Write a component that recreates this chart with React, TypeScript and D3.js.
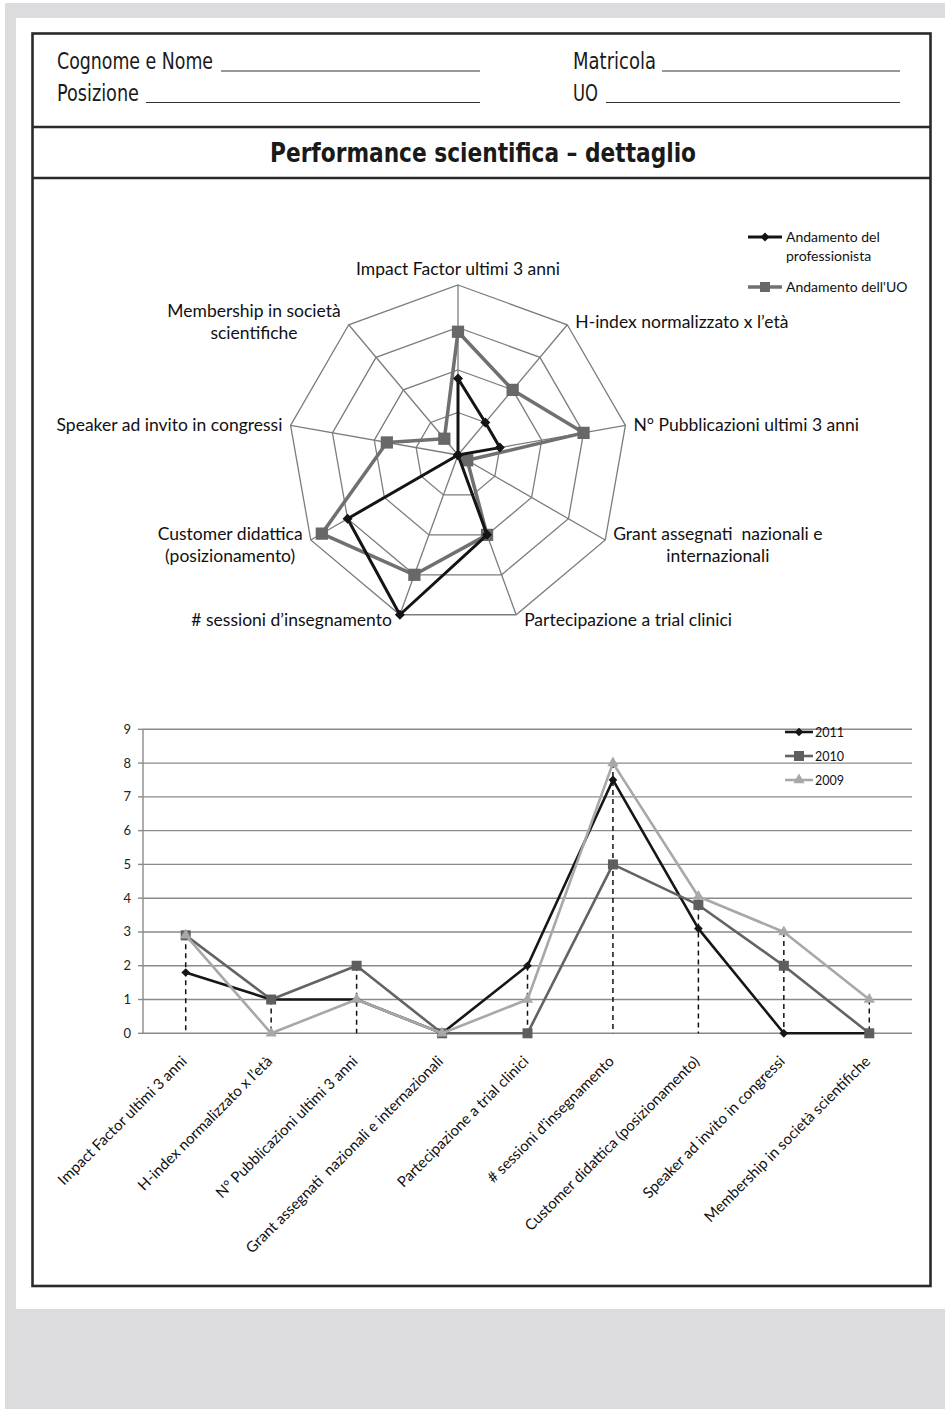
import React from "react";
import * as d3 from "d3";

// ---- Radar: axis labels (multi-line where wrapped) and values ----
const radarLabels: string[][] = [
  ["Impact Factor ultimi 3 anni"],
  ["H-index normalizzato x l’età"],
  ["N° Pubblicazioni ultimi 3 anni"],
  ["Grant assegnati  nazionali e", "internazionali"],
  ["Partecipazione a trial clinici"],
  ["# sessioni d’insegnamento"],
  ["Customer didattica", "(posizionamento)"],
  ["Speaker ad invito in congressi"],
  ["Membership in società", "scientifiche"],
];
const radarLevels = [1, 2, 3, 4];
const radarProfessionista = [1.8, 1, 1, 0, 2, 4, 3, 0, 0];
const radarUO = [2.9, 2, 3, 0.25, 2, 3, 3.7, 1.7, 0.5];
const radarLegendLines = [["Andamento del", "professionista"], ["Andamento dell'UO"]];

// ---- Line chart: categories, yearly series, y ticks ----
const categories = [
  "Impact Factor ultimi 3 anni",
  "H-index normalizzato x l’età",
  "N° Pubblicazioni ultimi 3 anni",
  "Grant assegnati  nazionali e internazionali",
  "Partecipazione a trial clinici",
  "# sessioni d’insegnamento",
  "Customer didattica (posizionamento)",
  "Speaker ad invito in congressi",
  "Membership in società scientifiche",
];
const years = ["2011", "2010", "2009"];
const values2011 = [1.8, 1, 1, 0, 2, 7.5, 3.1, 0, 0];
const values2010 = [2.9, 1, 2, 0, 0, 5, 3.8, 2, 0];
const values2009 = [2.9, 0, 1, 0, 1, 8, 4.05, 3, 1];
const yTicks = [0, 1, 2, 3, 4, 5, 6, 7, 8, 9];

const CHART_FONT = "Lato, 'Open Sans', 'DejaVu Sans', sans-serif";
const HEAD_FONT = "'Liberation Sans Narrow', 'DejaVu Sans Condensed', 'Liberation Sans', Arial, sans-serif";

let measureCtx: CanvasRenderingContext2D | null = null;
function textWidth(s: string, font: string): number {
  if (!measureCtx) {
    const c = document.createElement("canvas");
    measureCtx = c.getContext("2d");
  }
  if (!measureCtx) return s.length * 8;
  measureCtx.font = font;
  return measureCtx.measureText(s).width;
}

const squarePath = (area: number) => d3.symbol(d3.symbolSquare, area)() as string;
const trianglePath = (area: number) => d3.symbol(d3.symbolTriangle, area)() as string;

function Radar() {
  const cx = 458;
  const cy = 455;
  const R = 170;
  const n = radarLabels.length;
  const step = (2 * Math.PI) / n;
  const r = d3.scaleLinear().domain([0, 4]).range([0, R]);
  const ring = d3
    .lineRadial<number>()
    .angle((_, i) => i * step)
    .radius((d) => r(d))
    .curve(d3.curveLinearClosed);
  const pt = (v: number, i: number) => [cx + r(v) * Math.sin(i * step), cy - r(v) * Math.cos(i * step)];
  const fs = 17.5;
  const labelFont = `${fs}px ${CHART_FONT}`;

  return (
    <g>
      {radarLevels.map((lv) => (
        <path
          key={lv}
          d={ring(new Array(n).fill(lv)) as string}
          transform={`translate(${cx},${cy})`}
          fill="none"
          stroke="#7c7c7c"
          strokeWidth={1.3}
        />
      ))}
      {radarLabels.map((_, i) => {
        const [x, y] = pt(4, i);
        return <line key={i} x1={cx} y1={cy} x2={x} y2={y} stroke="#7c7c7c" strokeWidth={1.3} />;
      })}
      {/* UO series */}
      <path
        d={ring(radarUO) as string}
        transform={`translate(${cx},${cy})`}
        fill="none"
        stroke="#707070"
        strokeWidth={3.5}
        strokeLinejoin="round"
      />
      {radarUO.map((v, i) => {
        const [x, y] = pt(v, i);
        return <path key={i} d={squarePath(150)} transform={`translate(${x},${y})`} fill="#686868" />;
      })}
      {/* professionista series */}
      <path
        d={ring(radarProfessionista) as string}
        transform={`translate(${cx},${cy})`}
        fill="none"
        stroke="#141414"
        strokeWidth={3}
        strokeLinejoin="round"
      />
      {radarProfessionista.map((v, i) => {
        const [x, y] = pt(v, i);
        return <path key={i} d={squarePath(50)} transform={`translate(${x},${y}) rotate(45)`} fill="#141414" />;
      })}
      {/* axis labels */}
      {radarLabels.map((lines, i) => {
        const a = i * step;
        const s = Math.sin(a);
        const c = Math.cos(a);
        const [vx, vy] = pt(4, i);
        const lh = 22;
        if (Math.abs(s) < 0.1) {
          return (
            <text key={i} x={vx} y={vy - 10} textAnchor="middle" fontFamily={CHART_FONT} fontSize={fs} fill="#111">
              {lines[0]}
            </text>
          );
        }
        const w = Math.max(...lines.map((l) => textWidth(l, labelFont)));
        const side = s > 0 ? 1 : -1;
        const bx = vx + side * (8 + w / 2);
        const by = vy + (c < -0.1 ? 5 : c > 0.5 ? -3 : 0);
        return (
          <text key={i} textAnchor="middle" fontFamily={CHART_FONT} fontSize={fs} fill="#111" style={{ whiteSpace: "pre" }}>
            {lines.map((l, j) => (
              <tspan key={j} x={bx} y={by - ((lines.length - 1) * lh) / 2 + j * lh + 6}>
                {l}
              </tspan>
            ))}
          </text>
        );
      })}
      {/* legend */}
      <g fontFamily={CHART_FONT} fontSize={14} fill="#111">
        <line x1={748} x2={782} y1={237} y2={237} stroke="#141414" strokeWidth={3} />
        <path d={squarePath(40)} transform="translate(765,237) rotate(45)" fill="#141414" />
        <text x={786} y={242}>{radarLegendLines[0][0]}</text>
        <text x={786} y={261}>{radarLegendLines[0][1]}</text>
        <line x1={748} x2={782} y1={287} y2={287} stroke="#707070" strokeWidth={3.5} />
        <path d={squarePath(100)} transform="translate(765,287)" fill="#686868" />
        <text x={786} y={292}>{radarLegendLines[1][0]}</text>
      </g>
    </g>
  );
}

function LineChart() {
  const left = 143;
  const right = 912;
  const top = 729.3;
  const bottom = 1033.3;
  const x = d3.scaleBand<string>().domain(categories).range([left, right]);
  const cxOf = (c: string) => (x(c) as number) + x.bandwidth() / 2;
  const y = d3.scaleLinear().domain([0, 9]).range([bottom, top]);
  const series = [
    { name: years[0], values: values2011, color: "#161616", marker: (k: number) => <path key={k} d={squarePath(38)} fill="#161616" />, rot: 45 },
    { name: years[1], values: values2010, color: "#636363", marker: (k: number) => <path key={k} d={squarePath(100)} fill="#5e5e5e" />, rot: 0 },
    { name: years[2], values: values2009, color: "#a8a8a8", marker: (k: number) => <path key={k} d={trianglePath(55)} fill="#a8a8a8" />, rot: 0 },
  ];
  const line = d3
    .line<number>()
    .x((_, i) => cxOf(categories[i]))
    .y((d) => y(d));

  return (
    <g>
      {yTicks.map((t) => (
        <g key={t}>
          <line x1={left} x2={right} y1={y(t)} y2={y(t)} stroke="#8a8a8a" strokeWidth={1.4} />
          <line x1={left - 5} x2={left} y1={y(t)} y2={y(t)} stroke="#8a8a8a" strokeWidth={1.4} />
          <text x={left - 12} y={y(t) + 4.5} textAnchor="end" fontFamily={CHART_FONT} fontSize={13} fill="#222">
            {t}
          </text>
        </g>
      ))}
      <line x1={left} x2={left} y1={top} y2={bottom} stroke="#8a8a8a" strokeWidth={1.4} />
      {/* drop lines */}
      {categories.map((c, i) => {
        const m = Math.max(values2011[i], values2010[i], values2009[i]);
        if (m <= 0) return null;
        return (
          <line
            key={c}
            x1={cxOf(c)}
            x2={cxOf(c)}
            y1={y(m)}
            y2={y(0)}
            stroke="#111"
            strokeWidth={1.5}
            strokeDasharray="5,4"
          />
        );
      })}
      {series.map((s) => (
        <g key={s.name}>
          <path d={line(s.values) as string} fill="none" stroke={s.color} strokeWidth={2.6} strokeLinejoin="round" />
          {s.values.map((v, i) => (
            <g key={i} transform={`translate(${cxOf(categories[i])},${y(v)}) rotate(${s.rot})`}>
              {s.marker(i)}
            </g>
          ))}
        </g>
      ))}
      {/* category labels */}
      {categories.map((c) => (
        <text
          key={c}
          transform={`translate(${cxOf(c) + 2},${bottom + 29}) rotate(-45)`}
          textAnchor="end"
          fontFamily={CHART_FONT}
          fontSize={15}
          fill="#111"
          style={{ whiteSpace: "pre" }}
        >
          {c}
        </text>
      ))}
      {/* legend */}
      {series.map((s, k) => {
        const ly = 732 + k * 24;
        return (
          <g key={s.name}>
            <line x1={785} x2={813} y1={ly} y2={ly} stroke={s.color} strokeWidth={2.6} />
            <g transform={`translate(799,${ly}) rotate(${s.rot})`}>{s.marker(k)}</g>
            <text x={815} y={ly + 4.5} fontFamily={CHART_FONT} fontSize={12.5} fill="#111">
              {s.name}
            </text>
          </g>
        );
      })}
    </g>
  );
}

export default function App() {
  const frameBottom = 1286;
  const panelBottom = 1309;
  return (
    <div style={{ position: "absolute", left: 0, top: 0 }}>
      <svg width={945} height={1409} style={{ display: "block" }}>
        <rect x={0} y={0} width={945} height={1409} fill="#ffffff" />
        <rect x={5} y={3} width={940} height={1406} fill="#dcdcde" />
        <rect x={16} y={18} width={929} height={panelBottom - 18} fill="#ffffff" />
        {/* form frame */}
        <rect x={32.5} y={33.5} width={898} height={frameBottom - 33.5} fill="none" stroke="#2a2a2a" strokeWidth={2.6} />
        <line x1={32.5} x2={930.5} y1={127} y2={127} stroke="#2a2a2a" strokeWidth={2.6} />
        <line x1={32.5} x2={930.5} y1={178} y2={178} stroke="#2a2a2a" strokeWidth={2.6} />
        <g fontFamily={HEAD_FONT} fontSize={23} fill="#1a1a1a">
          <text x={57} y={69} textLength={156} lengthAdjust="spacingAndGlyphs">Cognome e Nome</text>
          <text x={57} y={101} textLength={82} lengthAdjust="spacingAndGlyphs">Posizione</text>
          <text x={573} y={69} textLength={83} lengthAdjust="spacingAndGlyphs">Matricola</text>
          <text x={573} y={101} textLength={25} lengthAdjust="spacingAndGlyphs">UO</text>
        </g>
        <g stroke="#333" strokeWidth={1.1}>
          <line x1={221} x2={480} y1={71} y2={71} />
          <line x1={146} x2={480} y1={102.5} y2={102.5} />
          <line x1={662} x2={900} y1={71} y2={71} />
          <line x1={606} x2={900} y1={102.5} y2={102.5} />
        </g>
        <text
          x={270}
          y={162}
          fontFamily={HEAD_FONT}
          fontWeight="bold"
          fontSize={27}
          fill="#1a1a1a"
          textLength={426}
          lengthAdjust="spacingAndGlyphs"
        >
          Performance scientifica – dettaglio
        </text>
        <Radar />
        <LineChart />
      </svg>
    </div>
  );
}
